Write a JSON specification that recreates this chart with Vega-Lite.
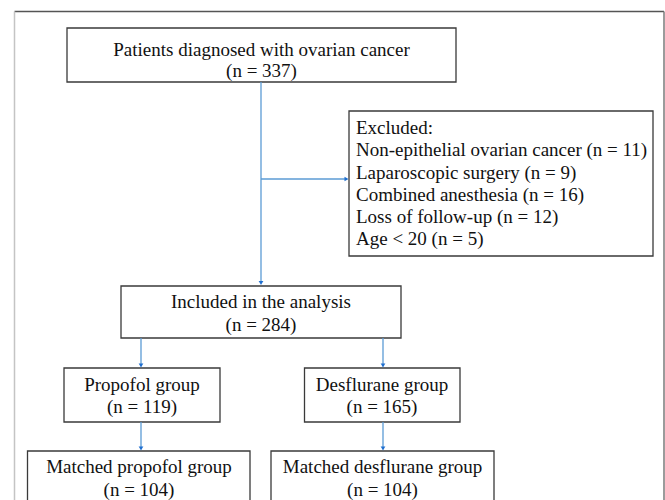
{
  "$schema": "https://vega.github.io/schema/vega-lite/v6.json",
  "width": 665,
  "height": 500,
  "padding": 0,
  "autosize": {"type": "none"},
  "background": "white",
  "config": {"view": {"stroke": null}},
  "datasets": {
    "frame": [
      {"edge": "top", "x": 14.5, "x2": 664, "y": 11.5, "y2": 11.5},
      {"edge": "left", "x": 14.5, "x2": 14.5, "y": 11.5, "y2": 500},
      {"edge": "right", "x": 664, "x2": 664, "y": 11.5, "y2": 500}
    ],
    "boxes": [
      {"name": "start", "x": 67, "x2": 456, "y": 28, "y2": 82},
      {"name": "excluded", "x": 349, "x2": 653, "y": 111, "y2": 256},
      {"name": "included", "x": 121, "x2": 401, "y": 286, "y2": 338},
      {"name": "propofol", "x": 64, "x2": 220, "y": 368, "y2": 422},
      {"name": "desflurane", "x": 304.5, "x2": 460, "y": 368, "y2": 422},
      {"name": "mpropofol", "x": 27.5, "x2": 250, "y": 451, "y2": 530},
      {"name": "mdesflurane", "x": 271, "x2": 494, "y": 451, "y2": 530}
    ],
    "links": [
      {"x": 261, "x2": 261, "y": 82, "y2": 283},
      {"x": 261, "x2": 346, "y": 179, "y2": 179},
      {"x": 141, "x2": 141, "y": 338, "y2": 365},
      {"x": 383, "x2": 383, "y": 338, "y2": 365},
      {"x": 141, "x2": 141, "y": 422, "y2": 448},
      {"x": 383, "x2": 383, "y": 422, "y2": 448}
    ],
    "arrowsDown": [
      {"x": 261, "y": 283},
      {"x": 141, "y": 365.5},
      {"x": 383, "y": 365.5},
      {"x": 141, "y": 448.5},
      {"x": 383, "y": 448.5}
    ],
    "arrowsRight": [
      {"x": 346.5, "y": 179}
    ],
    "centerText": [
      {"x": 261.5, "y": 50, "t": "Patients diagnosed with ovarian cancer"},
      {"x": 261.5, "y": 71, "t": "(n = 337)"},
      {"x": 261, "y": 302, "t": "Included in the analysis"},
      {"x": 261, "y": 325, "t": "(n = 284)"},
      {"x": 142, "y": 385, "t": "Propofol group"},
      {"x": 142, "y": 407, "t": "(n = 119)"},
      {"x": 382, "y": 385, "t": "Desflurane group"},
      {"x": 382, "y": 407, "t": "(n = 165)"},
      {"x": 139, "y": 467, "t": "Matched propofol group"},
      {"x": 139, "y": 490, "t": "(n = 104)"},
      {"x": 382.5, "y": 467, "t": "Matched desflurane group"},
      {"x": 382.5, "y": 490, "t": "(n = 104)"}
    ],
    "leftText": [
      {"x": 356, "y": 127.5, "t": "Excluded:"},
      {"x": 356, "y": 150, "t": "Non-epithelial ovarian cancer (n = 11)"},
      {"x": 356, "y": 173, "t": "Laparoscopic surgery (n = 9)"},
      {"x": 356, "y": 195, "t": "Combined anesthesia (n = 16)"},
      {"x": 356, "y": 216.5, "t": "Loss of follow-up (n = 12)"},
      {"x": 356, "y": 238.5, "t": "Age < 20 (n = 5)"}
    ]
  },
  "layer": [
    {
      "data": {"name": "frame"},
      "mark": {"type": "rule", "strokeWidth": 1.5},
      "encoding": {
        "x": {"field": "x", "type": "quantitative", "scale": {"domain": [0, 665], "nice": false, "zero": false}, "axis": null},
        "x2": {"field": "x2"},
        "y": {"field": "y", "type": "quantitative", "scale": {"domain": [0, 500], "nice": false, "zero": false, "reverse": true}, "axis": null},
        "y2": {"field": "y2"},
        "color": {"field": "edge", "type": "nominal", "legend": null, "scale": {"domain": ["top", "left", "right"], "range": ["#555555", "#c4c4c4", "#7a7a7a"]}}
      }
    },
    {
      "data": {"name": "boxes"},
      "mark": {"type": "rect", "fill": "white", "stroke": "#3a3a3a", "strokeWidth": 1.3, "clip": true},
      "encoding": {
        "x": {"field": "x", "type": "quantitative", "axis": null},
        "x2": {"field": "x2"},
        "y": {"field": "y", "type": "quantitative", "axis": null},
        "y2": {"field": "y2"}
      }
    },
    {
      "data": {"name": "links"},
      "mark": {"type": "rule", "color": "#5B9BD5", "strokeWidth": 1.3},
      "encoding": {
        "x": {"field": "x", "type": "quantitative", "axis": null},
        "x2": {"field": "x2"},
        "y": {"field": "y", "type": "quantitative", "axis": null},
        "y2": {"field": "y2"}
      }
    },
    {
      "data": {"name": "arrowsDown"},
      "mark": {"type": "point", "shape": "triangle-down", "filled": true, "color": "#1F6FD0", "size": 22, "opacity": 1},
      "encoding": {
        "x": {"field": "x", "type": "quantitative", "axis": null},
        "y": {"field": "y", "type": "quantitative", "axis": null}
      }
    },
    {
      "data": {"name": "arrowsRight"},
      "mark": {"type": "point", "shape": "triangle-right", "filled": true, "color": "#1F6FD0", "size": 22, "opacity": 1},
      "encoding": {
        "x": {"field": "x", "type": "quantitative", "axis": null},
        "y": {"field": "y", "type": "quantitative", "axis": null}
      }
    },
    {
      "data": {"name": "centerText"},
      "mark": {"type": "text", "font": "Liberation Serif", "fontSize": 19, "color": "#111111", "align": "center", "baseline": "middle"},
      "encoding": {
        "x": {"field": "x", "type": "quantitative", "axis": null},
        "y": {"field": "y", "type": "quantitative", "axis": null},
        "text": {"field": "t"}
      }
    },
    {
      "data": {"name": "leftText"},
      "mark": {"type": "text", "font": "Liberation Serif", "fontSize": 19, "color": "#111111", "align": "left", "baseline": "middle"},
      "encoding": {
        "x": {"field": "x", "type": "quantitative", "axis": null},
        "y": {"field": "y", "type": "quantitative", "axis": null},
        "text": {"field": "t"}
      }
    }
  ]
}
